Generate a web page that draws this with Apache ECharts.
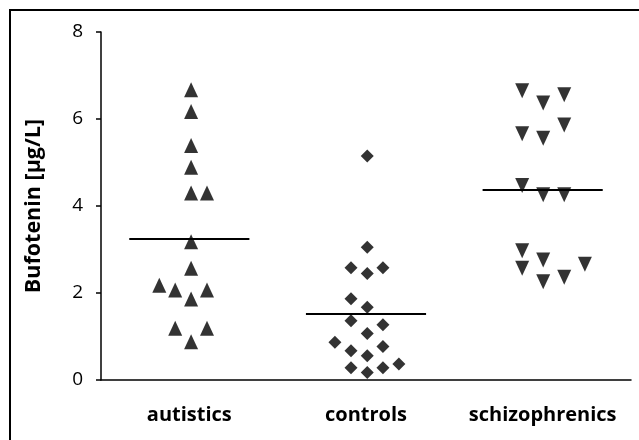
<!DOCTYPE html>
<html>
<head>
<meta charset="utf-8">
<script src="https://cdn.jsdelivr.net/npm/echarts@6/dist/echarts.min.js"></script>
<style>
  html, body { margin: 0; padding: 0; background: #fff; }
  #main { width: 639px; height: 440px; }
</style>
</head>
<body>
<div id="main"></div>
<script>
  // 分组名称
  var categories = ['autistics', 'controls', 'schizophrenics'];

  // 每组的点：x 为横向散开的位置（值轴 0~3），y 为浓度
  var autisticsX = [0.51, 0.51, 0.51, 0.51, 0.51, 0.60, 0.51, 0.51, 0.33, 0.42, 0.60, 0.51, 0.42, 0.60, 0.51];
  var autisticsY = [6.67, 6.17, 5.39, 4.89, 4.30, 4.30, 3.18, 2.57, 2.18, 2.07, 2.07, 1.86, 1.19, 1.19, 0.88];

  var controlsX = [1.507, 1.507, 1.415, 1.596, 1.507, 1.415, 1.507, 1.415, 1.596, 1.507, 1.324, 1.415, 1.596, 1.507, 1.415, 1.596, 1.686, 1.507];
  var controlsY = [5.15, 3.05, 2.58, 2.58, 2.45, 1.87, 1.67, 1.36, 1.27, 1.07, 0.87, 0.67, 0.77, 0.56, 0.28, 0.28, 0.37, 0.17];

  var schizoX = [2.384, 2.503, 2.622, 2.384, 2.503, 2.622, 2.384, 2.503, 2.622, 2.384, 2.503, 2.384, 2.739, 2.503, 2.622];
  var schizoY = [6.65, 6.37, 6.56, 5.66, 5.56, 5.86, 4.47, 4.26, 4.26, 2.97, 2.76, 2.57, 2.66, 2.26, 2.36];

  // 各组均值（横线）
  var groupCenters = [0.5, 1.5, 2.5];
  var means = [3.24, 1.52, 4.37];
  var meanHalfWidth = 0.34;

  // y轴刻度
  var yTicks = [0, 2, 4, 6, 8];

  function zip(xs, ys) {
    return xs.map(function (x, i) { return [x, ys[i]]; });
  }

  var meanLines = means.map(function (m, i) {
    return [
      { coord: [groupCenters[i] - meanHalfWidth, m] },
      { coord: [groupCenters[i] + meanHalfWidth, m] }
    ];
  });

  var chart = echarts.init(document.getElementById('main'));

  var option = {
    animation: false,
    textStyle: { fontFamily: 'Open Sans', color: '#000' },
    graphic: [{
      type: 'rect',
      shape: { x: 10, y: 10, width: 700, height: 500 },
      style: { fill: 'none', stroke: '#000', lineWidth: 2 },
      silent: true
    }],
    grid: { left: 101, right: 8, top: 32, bottom: 60 },
    xAxis: [{
      type: 'category',
      data: categories,
      boundaryGap: true,
      axisLine: { show: true, lineStyle: { color: '#000', width: 1.5 } },
      axisTick: { show: false },
      axisLabel: { color: '#000', fontSize: 20, fontWeight: 'bold', margin: 25, interval: 0, fontFamily: 'Open Sans' },
      splitLine: { show: false }
    }, {
      type: 'value',
      min: 0,
      max: 3,
      show: false
    }],
    yAxis: {
      type: 'value',
      min: yTicks[0],
      max: yTicks[yTicks.length - 1],
      interval: 2,
      name: 'Bufotenin [µg/L]',
      nameLocation: 'middle',
      nameGap: 56,
      nameTextStyle: { color: '#000', fontSize: 21.5, fontWeight: 'bold', fontFamily: 'Open Sans' },
      axisLine: { show: true, lineStyle: { color: '#000', width: 1.5 } },
      axisTick: { show: true, length: 5, lineStyle: { color: '#000', width: 1.5 } },
      axisLabel: { color: '#000', fontSize: 19, margin: 18 },
      splitLine: { show: false }
    },
    series: [
      {
        name: 'autistics',
        type: 'scatter',
        xAxisIndex: 1,
        symbol: 'triangle',
        symbolSize: [14, 15],
        itemStyle: { color: '#000' },
        data: zip(autisticsX, autisticsY),
        z: 3,
        markLine: {
          silent: true,
          symbol: ['none', 'none'],
          label: { show: false },
          lineStyle: { color: '#000', width: 2, type: 'solid' },
          data: meanLines,
          z: 2
        }
      },
      {
        name: 'controls',
        type: 'scatter',
        xAxisIndex: 1,
        symbol: 'diamond',
        symbolSize: 13,
        itemStyle: { color: '#000' },
        data: zip(controlsX, controlsY),
        z: 3
      },
      {
        name: 'schizophrenics',
        type: 'scatter',
        xAxisIndex: 1,
        symbol: 'triangle',
        symbolRotate: 180,
        symbolSize: [14, 15],
        itemStyle: { color: '#000' },
        data: zip(schizoX, schizoY),
        z: 3
      }
    ]
  };

  chart.setOption(option);
</script>
</body>
</html>
